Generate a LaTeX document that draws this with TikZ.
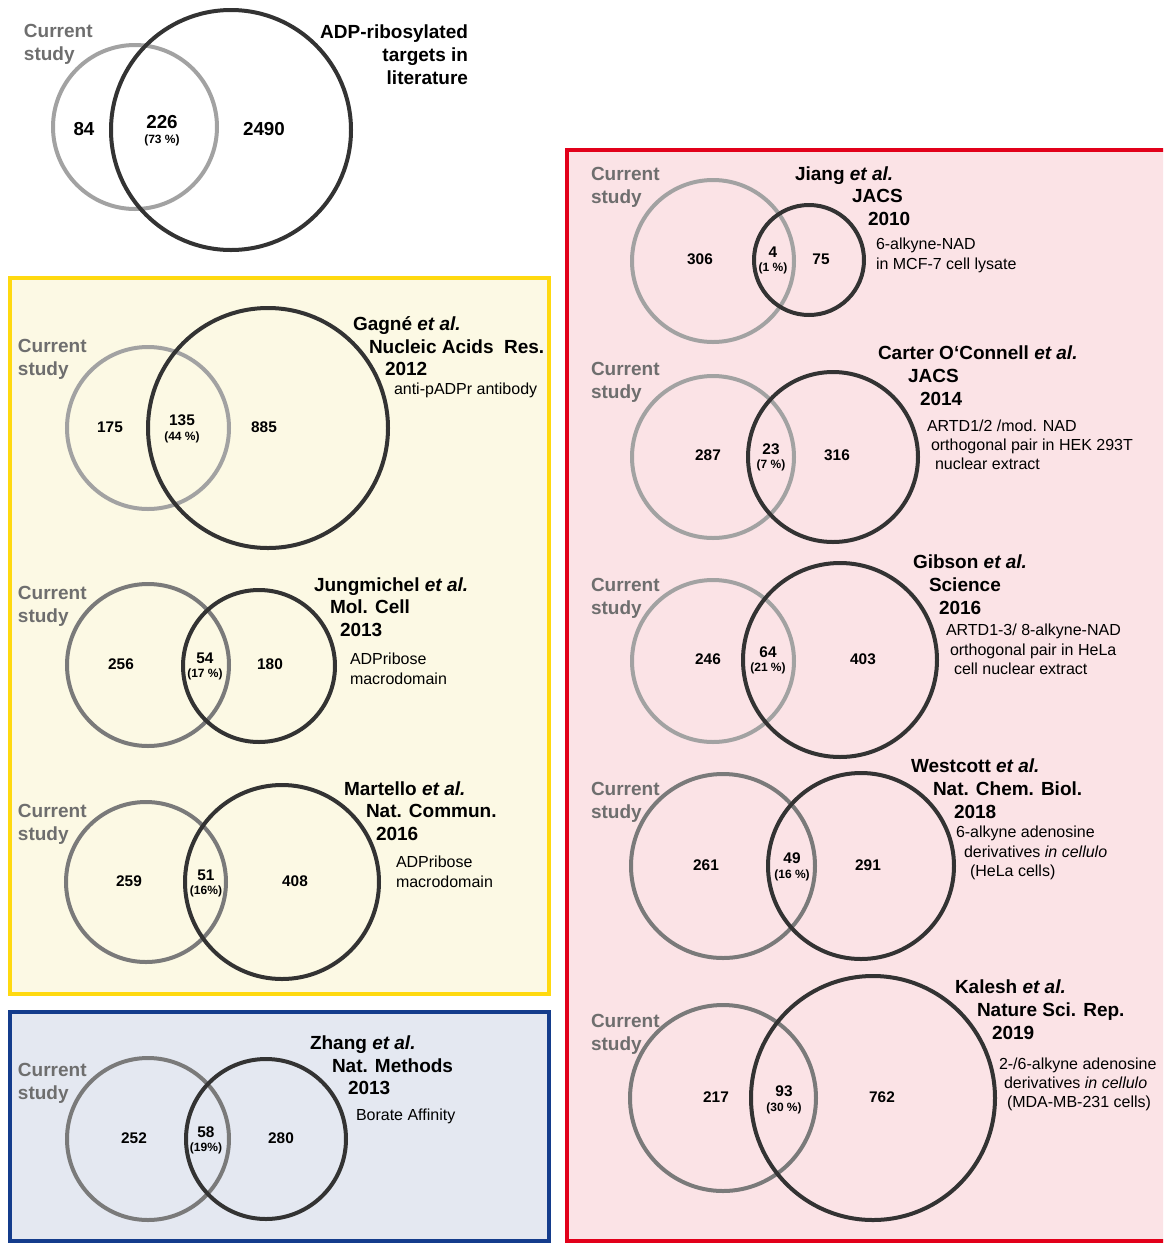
\documentclass[tikz,border=0pt]{standalone}
\usepackage{fontspec}
\setmainfont{Liberation Sans}
\definecolor{ringlight}{HTML}{A2A2A2}
\definecolor{ringmid}{HTML}{7A7A7A}
\definecolor{ringdark}{HTML}{333333}
\definecolor{curgray}{HTML}{6E6E6E}
\definecolor{yelline}{HTML}{FFD90F}
\definecolor{yelfill}{HTML}{FCF9E4}
\definecolor{blueline}{HTML}{143C8C}
\definecolor{bluefill}{HTML}{E4E8F1}
\definecolor{redline}{HTML}{E2001A}
\definecolor{redfill}{HTML}{FBE3E6}

\begin{document}
\begin{tikzpicture}[x=0.5pt, y=-0.5pt, line width=2pt,
  light/.style={draw=ringlight},
  mid/.style={draw=ringmid},
  dark/.style={draw=ringdark},
  % texto de varias lineas: la base es la de la ultima linea
  cur/.style={anchor=base west, align=left, inner sep=0, text=curgray,
    font=\bfseries\fontsize{9.5}{11.5}\selectfont},
  ref/.style={anchor=base west, inner sep=0, font=\bfseries\fontsize{9.5}{11.5}\selectfont},
  desc/.style={anchor=base west, align=left, inner sep=0, font=\fontsize{8}{9.6}\selectfont},
  big/.style={inner sep=0, font=\bfseries\fontsize{9.4}{10}\selectfont},
  num/.style={inner sep=0, font=\bfseries\fontsize{7.7}{8}\selectfont},
  pct/.style={inner sep=0, font=\bfseries\fontsize{6}{7}\selectfont}]
  \useasboundingbox (0,0) rectangle (1163,1243);
  \clip (0,0) rectangle (1163,1243);

  % cajas de fondo
  \draw[draw=yelline, fill=yelfill] (10,278) rectangle (549,994);
  \draw[draw=blueline, fill=bluefill] (10,1012) rectangle (549,1241);
  \draw[draw=redline, fill=redfill] (567,150) rectangle (1180,1241);

  % arriba: estudio actual vs literatura
  \draw[light] (135,127) circle (82);
  \draw[dark] (231,130) circle (120);
  \node[cur] (topcur) at (22,60) {Current\\study};
  \node[ref, anchor=base east, align=right] (toplit) at (470,84) {ADP-ribosylated\\targets in\\literature};
  \node[big] (topa) at (84,129) {84};
  \node[big] (topb) at (162,122) {226};
  \node[pct] (topp) at (162,140) {(73 \%)};
  \node[big] (topc) at (264,129) {2490};

  % Gagne
  \draw[light] (148,428) circle (81);
  \draw[dark] (268,428) circle (120);
  \node[cur] (gacur) at (16,375) {Current\\study};
  \node[ref] (ga1) at (351,330) {Gagné \textit{et al.}};
  \node[ref] (ga2) at (367,353) {Nucleic Acids\ \ Res.};
  \node[ref] (ga3) at (383,375) {2012};
  \node[desc] (ga4) at (392,394) {anti-pADPr antibody};
  \node[num] (gaa) at (110,427) {175};
  \node[num] (gab) at (182,420) {135};
  \node[pct] (gap) at (182,437) {(44 \%)};
  \node[num] (gac) at (264,427) {885};

  % Jungmichel
  \draw[mid] (148,665) circle (81);
  \draw[dark] (259,666) circle (76);
  \node[cur] (jucur) at (16,622) {Current\\study};
  \node[ref] (ju1) at (312,591) {Jungmichel \textit{et al.}};
  \node[ref] (ju2) at (328,613) {Mol. Cell};
  \node[ref] (ju3) at (338,636) {2013};
  \node[desc] (ju4) at (348,684) {ADPribose\\macrodomain};
  \node[num] (jua) at (121,664) {256};
  \node[num] (jub) at (205,658) {54};
  \node[pct] (jup) at (205,674) {(17 \%)};
  \node[num] (juc) at (270,664) {180};

  % Martello
  \draw[mid] (146,882) circle (80);
  \draw[dark] (282,882) circle (97);
  \node[cur] (macur) at (16,840) {Current\\study};
  \node[ref] (ma1) at (342,795) {Martello \textit{et al.}};
  \node[ref] (ma2) at (364,817) {Nat. Commun.};
  \node[ref] (ma3) at (374,840) {2016};
  \node[desc] (ma4) at (394,887) {ADPribose\\macrodomain};
  \node[num] (maa) at (129,881) {259};
  \node[num] (mab) at (206,875) {51};
  \node[pct] (map) at (206,891) {(16\%)};
  \node[num] (mac) at (295,881) {408};

  % Zhang
  \draw[mid] (148,1139) circle (81);
  \draw[dark] (266,1139) circle (80);
  \node[cur] (zhcur) at (16,1099) {Current\\study};
  \node[ref] (zh1) at (308,1049) {Zhang \textit{et al.}};
  \node[ref] (zh2) at (330,1072) {Nat. Methods};
  \node[ref] (zh3) at (346,1094) {2013};
  \node[desc] (zh4) at (354,1120) {Borate Affinity};
  \node[num] (zha) at (134,1138) {252};
  \node[num] (zhb) at (206,1132) {58};
  \node[pct] (zhp) at (206,1148) {(19\%)};
  \node[num] (zhc) at (281,1138) {280};

  % Jiang
  \draw[light] (713,261) circle (81);
  \draw[dark] (809,260) circle (55);
  \node[cur] (jicur) at (589,203) {Current\\study};
  \node[ref] (ji1) at (793,180) {Jiang \textit{et al.}};
  \node[ref] (ji2) at (850,202) {JACS};
  \node[ref] (ji3) at (866,225) {2010};
  \node[desc] (ji4) at (874,269) {6-alkyne-NAD\\in MCF-7 cell lysate};
  \node[num] (jia) at (700,259) {306};
  \node[num] (jib) at (773,252) {4};
  \node[pct] (jip) at (773,268) {(1 \%)};
  \node[num] (jic) at (821,259) {75};

  % Carter O'Connell
  \draw[light] (713,457) circle (81);
  \draw[dark] (833,457) circle (85);
  \node[cur] (cacur) at (589,398) {Current\\study};
  \node[ref] (ca1) at (876,359) {Carter O‘Connell \textit{et al.}};
  \node[ref] (ca2) at (906,382) {JACS};
  \node[ref] (ca3) at (918,405) {2014};
  \node[desc] (ca4) at (925,431) {ARTD1/2 /mod. NAD};
  \node[desc] (ca5) at (929,450) {orthogonal pair in HEK 293T};
  \node[desc] (ca6) at (933,469) {nuclear extract};
  \node[num] (caa) at (708,455) {287};
  \node[num] (cab) at (771,449) {23};
  \node[pct] (cap) at (771,465) {(7 \%)};
  \node[num] (cac) at (837,455) {316};

  % Gibson
  \draw[light] (713,661) circle (81);
  \draw[dark] (840,660) circle (97);
  \node[cur] (gicur) at (589,614) {Current\\study};
  \node[ref] (gi1) at (911,568) {Gibson \textit{et al.}};
  \node[ref] (gi2) at (927,591) {Science};
  \node[ref] (gi3) at (937,614) {2016};
  \node[desc] (gi4) at (944,635) {ARTD1-3/ 8-alkyne-NAD};
  \node[desc] (gi5) at (948,655) {orthogonal pair in HeLa};
  \node[desc] (gi6) at (952,674) {cell nuclear extract};
  \node[num] (gia) at (708,659) {246};
  \node[num] (gib) at (768,652) {64};
  \node[pct] (gip) at (768,668) {(21 \%)};
  \node[num] (gic) at (863,659) {403};

  % Westcott
  \draw[mid] (723,866) circle (92);
  \draw[dark] (861,866) circle (93);
  \node[cur] (wecur) at (589,818) {Current\\study};
  \node[ref] (we1) at (909,772) {Westcott \textit{et al.}};
  \node[ref] (we2) at (931,795) {Nat. Chem. Biol.};
  \node[ref] (we3) at (952,818) {2018};
  \node[desc] (we4) at (954,837) {6-alkyne adenosine};
  \node[desc] (we5) at (962,857) {derivatives \textit{in cellulo}};
  \node[desc] (we6) at (968,876) {(HeLa cells)};
  \node[num] (wea) at (706,865) {261};
  \node[num] (web) at (792,858) {49};
  \node[pct] (wep) at (792,875) {(16 \%)};
  \node[num] (wec) at (868,865) {291};

  % Kalesh
  \draw[mid] (723,1098) circle (93);
  \draw[dark] (873,1098) circle (122);
  \node[cur] (kacur) at (589,1050) {Current\\study};
  \node[ref] (ka1) at (953,993) {Kalesh \textit{et al.}};
  \node[ref] (ka2) at (975,1016) {Nature Sci. Rep.};
  \node[ref] (ka3) at (990,1039) {2019};
  \node[desc] (ka4) at (997,1069) {2-/6-alkyne adenosine};
  \node[desc] (ka5) at (1002,1088) {derivatives \textit{in cellulo}};
  \node[desc] (ka6) at (1005,1107) {(MDA-MB-231 cells)};
  \node[num] (kaa) at (716,1097) {217};
  \node[num] (kab) at (784,1091) {93};
  \node[pct] (kap) at (784,1108) {(30 \%)};
  \node[num] (kac) at (882,1097) {762};
\end{tikzpicture}
\end{document}
